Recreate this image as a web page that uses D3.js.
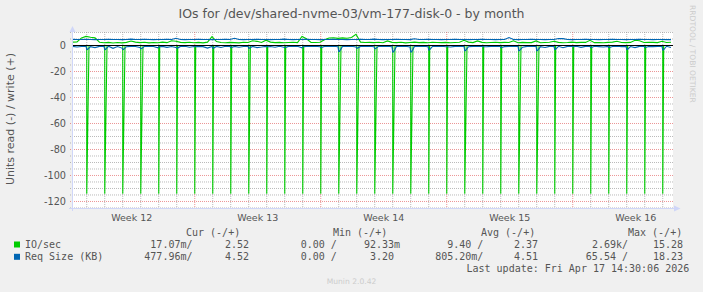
<!DOCTYPE html>
<html>
<head>
<meta charset="utf-8">
<script src="https://cdn.jsdelivr.net/npm/d3@7"></script>
<style>
  body { margin: 0; background: #f0f0f0; }
  svg { display: block; }
  text { font-family: "DejaVu Sans", sans-serif; fill: #555; }
  .mono { font-family: "DejaVu Sans Mono", monospace; font-size: 10px; white-space: pre; }
</style>
</head>
<body>
<svg id="chart" width="703" height="292"></svg>
<script>
const title = "IOs for /dev/shared-nvme-03/vm-177-disk-0 - by month";
const yLabel = "Units read (-) / write (+)";
const startTime = Date.UTC(2026, 2, 16, 5, 0); // left edge of the graph
const endTime = Date.UTC(2026, 3, 18, 13, 0);  // right edge
const sampleHours = 6;                          // spacing of the arrays below
const yTicks = [-120, -100, -80, -60, -40, -20, 0];

// IO/sec write (+), one value every 6 hours
const ioWrite = [
  2.6, 2.7, 5.8, 7.0, 6.3, 5.9, 2.5, 2.1, 2.4, 1.9,
  2.3, 2.0, 2.4, 3.4, 2.6, 2.2, 2.5, 2.0, 2.3, 2.1,
  2.6, 2.2, 3.6, 3.3, 2.4, 2.2, 2.5, 2.1, 2.4, 2.0,
  2.6, 6.8, 3.0, 2.3, 2.1, 2.4, 2.2, 2.0, 2.5, 2.3,
  3.6, 3.2, 2.3, 4.1, 2.6, 2.2, 2.4, 2.1, 2.3, 2.5,
  2.2, 6.9, 5.2, 2.4, 2.3, 2.5, 4.5, 5.8, 6.0, 5.5,
  5.9, 5.6, 6.1, 8.6, 2.6, 2.3, 2.4, 2.2, 2.5, 2.1,
  3.5, 2.4, 2.2, 2.5, 2.0, 2.3, 2.6, 2.2, 2.4, 2.1,
  2.5, 2.3, 2.2, 2.4, 2.1, 2.3, 2.5, 4.0, 2.6, 2.2,
  3.5, 2.4, 2.1, 2.3, 2.5, 2.2, 2.4, 2.3, 3.6, 2.1,
  2.4, 2.2, 2.2, 3.5, 2.1, 2.3, 2.5, 3.3, 2.4, 2.1,
  2.3, 2.6, 2.2, 2.4, 2.4, 4.0, 2.2, 2.3, 2.1, 2.4,
  2.6, 3.3, 2.3, 2.2, 2.4, 4.0, 3.6, 2.3, 2.4, 2.4,
  2.2, 3.3, 2.3, 2.5
];

// Req Size (KB) write (+), every 6 hours
const reqWrite = [
  4.7, 4.6, 4.6, 4.7, 4.6, 4.5, 4.6, 4.6, 4.7, 4.6,
  4.6, 4.5, 4.6, 4.9, 4.6, 4.6, 4.7, 4.6, 4.5, 4.6,
  4.6, 4.7, 4.6, 5.6, 4.6, 4.5, 4.6, 4.6, 4.7, 4.6,
  4.6, 4.5, 4.6, 4.6, 4.7, 4.6, 5.6, 4.6, 4.5, 4.6,
  4.6, 4.7, 4.6, 4.6, 4.5, 4.6, 4.6, 4.9, 4.6, 4.5,
  4.6, 4.6, 4.7, 4.6, 4.6, 4.5, 4.6, 4.6, 4.7, 4.6,
  4.6, 4.5, 4.6, 4.6, 4.7, 4.6, 4.6, 4.9, 4.6, 4.5,
  4.6, 4.6, 4.7, 4.6, 4.6, 4.5, 5.2, 4.6, 4.6, 4.7,
  4.6, 4.6, 4.5, 4.6, 4.6, 4.7, 4.6, 4.6, 4.5, 4.6,
  4.6, 4.7, 4.6, 4.6, 4.5, 4.6, 4.6, 6.1, 4.6, 4.5,
  4.6, 4.6, 4.7, 4.6, 4.6, 4.5, 4.6, 4.6, 5.4, 5.3,
  4.6, 4.5, 4.6, 4.6, 4.7, 4.6, 4.6, 4.5, 4.6, 4.6,
  4.7, 4.6, 4.6, 4.5, 4.6, 4.6, 4.7, 4.6, 4.6, 4.5,
  4.6, 4.6, 4.5, 4.5
];

// Req Size (KB) read (-), every 6 hours, outside the nightly burst
const reqRead = [
  -0.7, -1.2, -0.8, -0.6, -0.9, -1.6, -0.7, -0.8, -0.6, -2.2,
  -0.8, -2.0, -0.9, -0.7, -0.8, -1.6, -0.7, -0.6, -0.8, -1.8,
  -0.7, -1.4, -0.8, -1.5, -0.7, -0.6, -1.3, -0.8, -0.7, -0.9,
  -2.0, -0.8, -0.7, -1.5, -0.6, -0.8, -0.7, -1.3, -0.8, -0.6,
  -0.7, -1.6, -1.2, -0.7, -0.8, -1.3, -0.6, -1.3, -0.7, -0.8,
  -0.6, -1.8, -0.7, -0.8, -0.6, -0.9, -0.7, -0.8, -0.6, -1.0,
  -0.7, -0.8, -0.6, -1.1, -0.7, -0.8, -0.6, -0.9, -0.7, -0.8,
  -0.6, -1.0, -0.7, -0.8, -0.6, -1.1, -0.7, -0.8, -0.6, -0.9,
  -0.7, -0.8, -0.6, -1.0, -1.2, -0.7, -0.8, -0.6, -0.9, -0.7,
  -0.8, -0.6, -1.0, -0.7, -0.8, -0.6, -0.9, -0.7, -0.8, -0.6,
  -1.3, -0.7, -0.8, -0.6, -0.9, -1.5, -0.7, -0.8, -0.6, -1.7,
  -0.7, -0.8, -0.6, -1.4, -0.7, -0.8, -0.6, -0.9, -1.2, -0.7,
  -0.8, -0.6, -0.9, -0.7, -0.8, -1.6, -0.7, -0.6, -0.8, -0.9,
  -0.7, -0.8, -0.6, -1.5
];

// nightly read burst, one per day starting Mar 17 at midnight
const spikeHour = 0;
const spikeIO = [
  -114, -114, -114, -114, -114, -114, -114, -114, -114, -114, -114,
  -114, -114, -114, -114, -114, -114, -114, -114, -114, -114, -114,
  -114, -114, -114, -114, -114, -114, -114, -114, -114, -114, -114
];
const spikeReq = [
  -3, -3, -3, -2.5, -1, -2, -1, -2, -1.5, -2, -1,
  -1.5, -1, -1.5, -4.5, -2, -2.5, -5, -5, -3.5, -1, -4,
  -1, -1.5, -4, -4, -3, -1, -1.5, -1.5, -3, -1.5, -3.5
];
const spikeLen = [ // hours until the read rate is back to zero
  3, 3, 3, 3, 1.3, 1.3, 1.3, 1.3, 1.3, 2.2, 1.3,
  1.3, 1.3, 1.3, 3, 3, 3, 3, 3, 1.3, 1.3, 3,
  1.3, 1.3, 3, 3, 1.3, 1.3, 1.3, 1.3, 1.3, 1.3, 1.3
];

const legendHead = ["Cur (-/+)", "Min (-/+)", "Avg (-/+)", "Max (-/+)"];
const legendNames = ["IO/sec", "Req Size (KB)"];
const legendColors = ["#00cc00", "#0066b3"];
const legendValues = [
  ["17.07m/", "2.52", "0.00 /", "92.33m", "9.40 /", "2.37", "2.69k/", "15.28"],
  ["477.96m/", "4.52", "0.00 /", "3.20 ", "805.20m/", "4.51", "65.54 /", "18.23"]
];
const lastUpdate = "Last update: Fri Apr 17 14:30:06 2026";
const version = "Munin 2.0.42";
const watermark = "RRDTOOL / TOBI OETIKER";

(() => {
  const svg = d3.select("#chart");
  const hour = 3600e3;
  const left = 72, right = 672, top = 32, bottom = 208;

  const x = d3.scaleUtc().domain([startTime, endTime]).range([left + 0.5, right + 0.5]);
  const y = d3.scaleLinear().domain([-125.4, 10]).range([bottom + 0.5, top + 0.5]);

  const sampleTime = i => startTime + i * sampleHours * hour;
  const spikeTime = i => Date.UTC(2026, 2, 17 + i) + spikeHour * hour;

  // canvas
  svg.append("rect")
    .attr("x", left).attr("y", top)
    .attr("width", right - left + 1).attr("height", bottom - top)
    .attr("fill", "#fff");

  const grid = svg.append("g").attr("fill", "none").attr("stroke-width", 1);

  // horizontal grid: minor every 5, major every 20
  d3.range(-125, 11, 5).filter(v => v > -125.4 && v !== 0).forEach(v => {
    grid.append("line")
      .attr("x1", left - 2).attr("x2", right + 1)
      .attr("y1", y(v)).attr("y2", y(v))
      .attr("stroke", v % 20 === 0 ? "rgba(222,79,79,0.6)" : "rgba(140,140,140,0.6)")
      .attr("stroke-dasharray", "1,1");
  });

  // vertical grid: days, Mondays in red
  d3.utcDay.range(startTime, endTime).forEach(d => {
    const monday = d.getUTCDay() === 1;
    grid.append("line")
      .attr("x1", x(d)).attr("x2", x(d))
      .attr("y1", top).attr("y2", bottom + 2)
      .attr("stroke", monday ? "rgba(222,79,79,0.6)" : "rgba(140,140,140,0.6)")
      .attr("stroke-dasharray", "1,1");
  });

  // week labels, centred in each week
  d3.utcMonday.range(startTime - 7 * 24 * hour, endTime)
    .map(d => +d + 3.5 * 24 * hour)
    .filter(t => t > startTime && t < endTime)
    .forEach(t => {
      svg.append("text")
        .attr("x", x(t)).attr("y", 221)
        .attr("text-anchor", "middle")
        .style("font-size", "9.5px")
        .text("Week " + d3.utcFormat("%V")(new Date(t - 3.5 * 24 * hour)));
    });

  // y tick labels
  yTicks.forEach(v => {
    svg.append("text")
      .attr("x", 66).attr("y", y(v) + 3.4)
      .attr("text-anchor", "end")
      .style("font-size", "9.7px")
      .text(v);
  });

  // build series: the burst drops straight down and climbs back over spikeLen
  const ioReadPts = [[startTime, 0]];
  spikeIO.forEach((v, i) => {
    const t = spikeTime(i);
    ioReadPts.push([t, 0], [t, v], [t + spikeLen[i] * hour, 0]);
  });
  ioReadPts.push([sampleTime(ioWrite.length - 1), 0]);

  const reqReadPts = reqRead.map((v, i) => [sampleTime(i), v]);
  spikeReq.forEach((v, i) => {
    const t = spikeTime(i);
    reqReadPts.push([t, v], [t + hour, v]);
  });
  reqReadPts.sort((a, b) => a[0] - b[0]);

  const ioWritePts = ioWrite.map((v, i) => [sampleTime(i), v]);
  const reqWritePts = reqWrite.map((v, i) => [sampleTime(i), v]);

  const line = d3.line().x(d => x(d[0])).y(d => y(d[1]));
  const series = [
    { pts: ioReadPts, color: legendColors[0] },
    { pts: ioWritePts, color: legendColors[0] },
    { pts: reqReadPts, color: legendColors[1] },
    { pts: reqWritePts, color: legendColors[1] }
  ];
  svg.append("g").attr("fill", "none")
    .selectAll("path")
    .data(series)
    .enter()
    .append("path")
    .attr("d", d => line(d.pts))
    .attr("stroke", d => d.color)
    .attr("stroke-width", 1.1);

  // zero rule
  svg.append("line")
    .attr("x1", left).attr("x2", right + 1)
    .attr("y1", y(0)).attr("y2", y(0))
    .attr("stroke", "#000").attr("stroke-width", 1);

  // axes with arrows
  const axisColor = "#cfd6f8";
  svg.append("line")
    .attr("x1", left - 3).attr("x2", right + 4)
    .attr("y1", bottom + 0.5).attr("y2", bottom + 0.5)
    .attr("stroke", axisColor);
  svg.append("line")
    .attr("x1", left + 0.5).attr("x2", left + 0.5)
    .attr("y1", bottom + 3).attr("y2", top - 3)
    .attr("stroke", axisColor);
  svg.append("path")
    .attr("d", `M${right + 2},${bottom - 2.5}L${right + 8.5},${bottom + 0.5}L${right + 2},${bottom + 3.5}Z`)
    .attr("fill", axisColor);
  svg.append("path")
    .attr("d", `M${left - 2.5},${top}L${left + 0.5},${top - 6}L${left + 3.5},${top}Z`)
    .attr("fill", axisColor);

  // title
  svg.append("text")
    .attr("x", 351.5).attr("y", 18)
    .attr("text-anchor", "middle")
    .style("font-size", "12.5px")
    .text(title);

  // y axis label
  svg.append("text")
    .attr("transform", "translate(14,119) rotate(-90)")
    .attr("text-anchor", "middle")
    .style("font-size", "11px")
    .text(yLabel);

  // watermark
  svg.append("text")
    .attr("transform", "translate(690,5) rotate(90)")
    .style("font-size", "7.6px")
    .style("fill", "#cccccc")
    .text(watermark);

  // legend
  const headX = [186, 333, 481, 628];
  legendHead.forEach((h, i) => {
    svg.append("text").attr("class", "mono")
      .attr("x", headX[i]).attr("y", 236)
      .text(h);
  });

  const colEnd = [192.5, 249, 336.8, 400, 483.4, 538, 628, 683];
  legendNames.forEach((name, r) => {
    const rowY = 248 + r * 12.3;
    svg.append("rect")
      .attr("x", 14).attr("y", rowY - 6.5)
      .attr("width", 6).attr("height", 6)
      .attr("fill", legendColors[r]);
    svg.append("text").attr("class", "mono")
      .attr("x", 25).attr("y", rowY)
      .text(name);
    legendValues[r].forEach((v, c) => {
      svg.append("text").attr("class", "mono")
        .attr("x", colEnd[c]).attr("y", rowY)
        .attr("text-anchor", "end")
        .text(v);
    });
  });

  svg.append("text").attr("class", "mono")
    .attr("x", 466.5).attr("y", 272)
    .text(lastUpdate);

  svg.append("text")
    .attr("x", 351.5).attr("y", 284)
    .attr("text-anchor", "middle")
    .style("font-size", "7.6px")
    .style("fill", "#cccccc")
    .text(version);
})();
</script>
</body>
</html>
